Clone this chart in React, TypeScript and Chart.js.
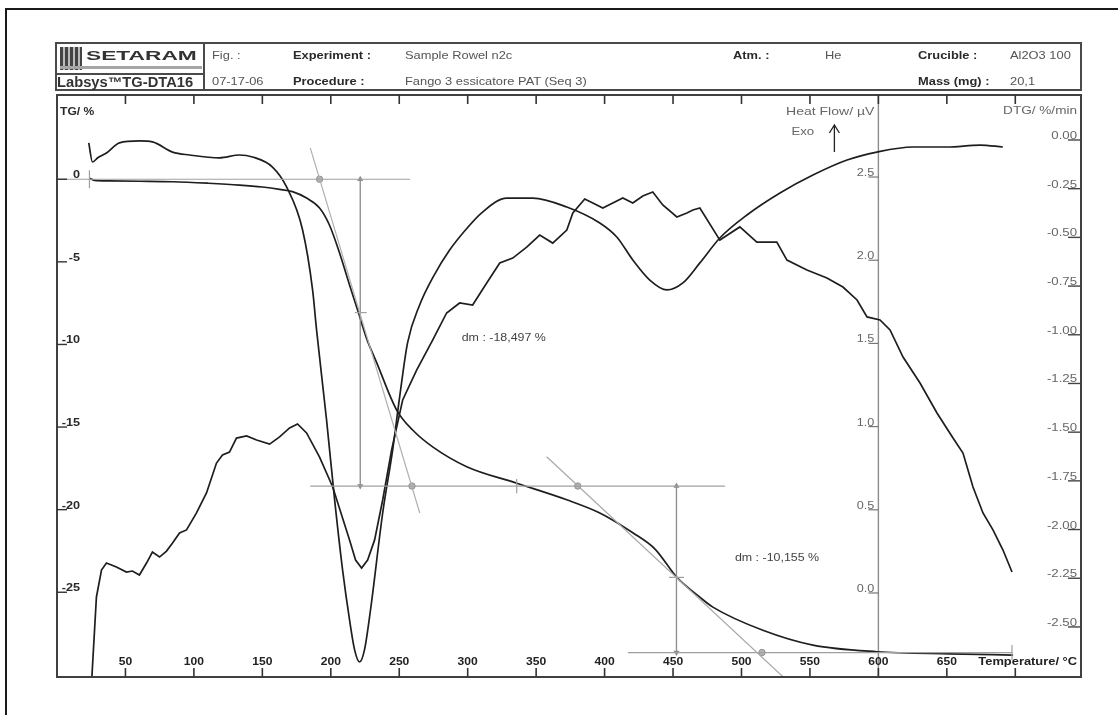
import React, { useEffect, useRef } from 'react';
import { Chart, registerables } from 'chart.js';

Chart.register(...registerables);

const FONT = '"Liberation Sans", Arial, Helvetica, sans-serif';

// ---------- axis ticks ----------
const tempTicks = [50, 100, 150, 200, 250, 300, 350, 400, 450, 500, 550, 600, 650, 700];
const tempTickLabels = ['50', '100', '150', '200', '250', '300', '350', '400', '450', '500', '550', '600', '650', ''];
const tgTicks = [0, -5, -10, -15, -20, -25];
const tgTickLabels = ['0', '-5', '-10', '-15', '-20', '-25'];
const hfTicks = [2.5, 2.0, 1.5, 1.0, 0.5, 0.0];
const hfTickLabels = ['2.5', '2.0', '1.5', '1.0', '0.5', '0.0'];
const dtgTicks = [0, -0.25, -0.5, -0.75, -1.0, -1.25, -1.5, -1.75, -2.0, -2.25, -2.5];
const dtgTickLabels = ['0.00', '-0.25', '-0.50', '-0.75', '-1.00', '-1.25', '-1.50', '-1.75', '-2.00', '-2.25', '-2.50'];
const hfAxisTemp = 600;

// ---------- axis ranges ----------
const tempRange = [0, 748];
const tgRange = [-30.13, 5.1];
const hfRange = [-0.505, 2.993];
const dtgRange = [-2.757, 0.231];

// ---------- TG curve (%) ----------
const tgTemps = [23.7, 27.3, 38.3, 60, 84.4, 110, 133.3, 150, 162.6, 172, 182.3, 191.8, 199, 206.4, 213.7, 220.3, 226, 233.5, 248.1, 259.8, 274.4, 299.3, 335.8, 372.3, 396.5, 420.6, 437, 452.8, 469.6, 479.1, 515.6, 552.2, 598.9, 652, 698.4];
const tgValues = [0.06, -0.07, -0.1, -0.12, -0.15, -0.24, -0.35, -0.47, -0.61, -0.75, -1.14, -1.74, -2.77, -4.46, -6.4, -8.1, -9.6, -11.1, -13.97, -15.18, -16.2, -17.4, -18.4, -19.4, -20.2, -21.4, -22.4, -24.1, -25.3, -25.9, -27.3, -28.2, -28.6, -28.73, -28.8];

// ---------- DTG curve (%/min) ----------
const dtgTemps = [23.2, 25.9, 30, 36.1, 45.6, 60.2, 69.7, 84.4, 96.8, 118.7, 133.3, 142.8, 157.4, 167.7, 179.4, 186.7, 189.6, 196.9, 202.8, 208.6, 213.7, 217.4, 221.0, 224.6, 229.0, 237.9, 245.2, 250.3, 256.1, 264.9, 275.0, 286.8, 299.0, 310.0, 328.5, 347.5, 372.4, 396.5, 408.9, 420.6, 433.0, 445.5, 457.2, 469.6, 484.2, 504.0, 528.1, 552.2, 577.1, 598.9, 625.2, 650.1, 674.2, 690.9];
const dtgValues = [-0.015, -0.113, -0.09, -0.067, -0.015, -0.005, -0.01, -0.062, -0.077, -0.092, -0.077, -0.087, -0.139, -0.241, -0.462, -0.77, -0.975, -1.437, -1.848, -2.207, -2.464, -2.618, -2.68, -2.618, -2.413, -1.915, -1.591, -1.319, -1.04, -0.847, -0.7, -0.565, -0.457, -0.375, -0.298, -0.298, -0.344, -0.426, -0.498, -0.616, -0.719, -0.77, -0.734, -0.631, -0.503, -0.385, -0.272, -0.18, -0.103, -0.062, -0.036, -0.036, -0.026, -0.036];

// ---------- Heat flow curve (µV) ----------
const hfTemps = [25.1, 28.8, 32.5, 36.1, 43.4, 50.7, 55.1, 60.2, 65.4, 69.7, 74.9, 80.0, 84.4, 89.5, 94.6, 101.9, 109.2, 116.5, 120.9, 126.0, 131.1, 138.5, 145.8, 155.3, 162.6, 169.9, 175.7, 182.3, 191.8, 201.4, 213.7, 218.1, 222.5, 226.9, 232.0, 237.9, 244.4, 252.5, 262.7, 274.4, 284.6, 294.1, 303.6, 313.9, 323.4, 332.9, 343.1, 352.6, 362.1, 372.4, 376.8, 385.5, 391.4, 398.7, 406.0, 413.3, 420.6, 427.9, 435.2, 442.5, 452.8, 460.1, 464.5, 469.6, 484.2, 498.8, 511.2, 525.8, 533.2, 547.8, 562.4, 574.1, 584.4, 591.7, 601.2, 608.5, 618.0, 630.4, 642.8, 654.5, 661.8, 669.1, 676.4, 683.7, 691.0, 697.6];
const hfValues = [-0.56, -0.024, 0.138, 0.18, 0.156, 0.126, 0.132, 0.108, 0.18, 0.246, 0.216, 0.252, 0.3, 0.361, 0.379, 0.481, 0.601, 0.781, 0.829, 0.847, 0.931, 0.944, 0.919, 0.895, 0.938, 0.992, 1.016, 0.962, 0.817, 0.637, 0.319, 0.198, 0.15, 0.198, 0.319, 0.559, 0.859, 1.16, 1.34, 1.52, 1.683, 1.743, 1.731, 1.863, 1.983, 2.013, 2.079, 2.151, 2.103, 2.181, 2.284, 2.368, 2.344, 2.314, 2.344, 2.374, 2.344, 2.386, 2.41, 2.332, 2.26, 2.284, 2.302, 2.314, 2.121, 2.2, 2.109, 2.109, 2.001, 1.941, 1.893, 1.839, 1.761, 1.659, 1.641, 1.581, 1.418, 1.262, 1.082, 0.931, 0.841, 0.637, 0.481, 0.379, 0.258, 0.126];

// ---------- mass-loss construction (TG scale) ----------
const baseline1Temps = [0, 258];
const baseline1Values = [0, 0];
const tangent1Temps = [185, 265];
const tangent1Values = [1.9, -20.2];
const baseline2Temps = [185, 488];
const baseline2Values = [-18.57, -18.57];
const tangent2Temps = [357.7, 534];
const tangent2Values = [-16.8, -30.4];
const baseline3Temps = [417, 698];
const baseline3Values = [-28.65, -28.65];
const arrow1Temps = [221.5, 221.5];
const arrow1Values = [0, -18.57];
const arrow2Temps = [452.5, 452.5];
const arrow2Values = [-18.57, -28.65];
const midTick1Temps = [217.5, 226.2];
const midTick1Values = [-8.07, -8.07];
const midTick2Temps = [447, 458];
const midTick2Values = [-24.1, -24.1];
const startTickTemps = [23.7, 23.7];
const startTickValues = [0.55, -0.55];
const plateauTickTemps = [335.8, 335.8];
const plateauTickValues = [-18.15, -19.0];
const endTickTemps = [697.6, 697.6];
const endTickValues = [-28.2, -29.1];
const markerTemps = [191.8, 259.3, 380.4, 515];
const markerValues = [0, -18.57, -18.57, -28.65];

// ---------- annotation texts ----------
const dmLabels = ['dm : -18,497 %', 'dm : -10,155 %'];
const dmTemps = [295.6, 495.2];
const dmValues = [-9.6, -22.9];

// ---------- header ----------
const headerRow1 = [
  { text: 'Fig. :', x: 212, bold: false },
  { text: 'Experiment :', x: 293, bold: true },
  { text: 'Sample Rowel n2c', x: 405, bold: false },
  { text: 'Atm. :', x: 733, bold: true },
  { text: 'He', x: 825, bold: false },
  { text: 'Crucible :', x: 918, bold: true },
  { text: 'Al2O3 100', x: 1010, bold: false },
];
const headerRow2 = [
  { text: '07-17-06', x: 212, bold: false },
  { text: 'Procedure :', x: 293, bold: true },
  { text: 'Fango 3 essicatore PAT (Seq  3)', x: 405, bold: false },
  { text: 'Mass (mg) :', x: 918, bold: true },
  { text: '20,1', x: 1010, bold: false },
];

const zip = (xs: number[], ys: number[]) => xs.map((x, i) => ({ x, y: ys[i] }));

function txt(ctx: CanvasRenderingContext2D, s: string, x: number, y: number, o: { align?: CanvasTextAlign; base?: CanvasTextBaseline; size?: number; bold?: boolean; color?: string; sx?: number }) {
  ctx.save();
  ctx.font = `${o.bold ? 'bold ' : ''}${o.size ?? 12}px ${FONT}`;
  ctx.fillStyle = o.color ?? '#333';
  ctx.textAlign = o.align ?? 'left';
  ctx.textBaseline = o.base ?? 'middle';
  ctx.translate(x, y);
  ctx.scale(o.sx ?? 1.12, 1);
  ctx.fillText(s, 0, 0);
  ctx.restore();
}

const decorPlugin = {
  id: 'decor',
  beforeDatasetsDraw(chart: any) {
    const { ctx, chartArea: a, scales } = chart;
    const hx = scales.x.getPixelForValue(hfAxisTemp);
    ctx.save();
    ctx.strokeStyle = '#8c8c8c';
    ctx.lineWidth = 1.4;
    ctx.beginPath();
    ctx.moveTo(hx, a.top);
    ctx.lineTo(hx, a.bottom);
    ctx.stroke();
    ctx.restore();
  },
  afterDatasetsDraw(chart: any) {
    const { ctx, chartArea: a, scales } = chart;
    const sx = scales.x, sTG = scales.yTG, sHF = scales.yHF, sDTG = scales.yDTG;
    const hx = sx.getPixelForValue(hfAxisTemp);
    ctx.save();
    // frame
    ctx.strokeStyle = '#404040';
    ctx.lineWidth = 2;
    ctx.strokeRect(a.left, a.top, a.right - a.left, a.bottom - a.top);
    // temperature ticks (top & bottom)
    ctx.lineWidth = 1.6;
    ctx.strokeStyle = '#333';
    tempTicks.forEach((t, i) => {
      const px = sx.getPixelForValue(t);
      ctx.beginPath();
      ctx.moveTo(px, a.top); ctx.lineTo(px, a.top + 9);
      ctx.moveTo(px, a.bottom); ctx.lineTo(px, a.bottom - 9);
      ctx.stroke();
      if (tempTickLabels[i]) txt(ctx, tempTickLabels[i], px, a.bottom - 15, { align: 'center', bold: true, size: 11, color: '#222', sx: 1.1 });
    });
    // TG ticks (left)
    tgTicks.forEach((v, i) => {
      const py = sTG.getPixelForValue(v);
      ctx.strokeStyle = '#333'; ctx.lineWidth = 1.4;
      ctx.beginPath(); ctx.moveTo(a.left, py); ctx.lineTo(a.left + 10, py); ctx.stroke();
      txt(ctx, tgTickLabels[i], a.left + 23, py - 1, { align: 'right', base: 'alphabetic', bold: true, size: 11, color: '#2a2a2a', sx: 1.15 });
    });
    // Heat flow ticks (middle axis)
    hfTicks.forEach((v, i) => {
      const py = sHF.getPixelForValue(v);
      ctx.strokeStyle = '#777'; ctx.lineWidth = 1.2;
      ctx.beginPath(); ctx.moveTo(hx - 10, py); ctx.lineTo(hx, py); ctx.stroke();
      txt(ctx, hfTickLabels[i], hx - 4, py - 1, { align: 'right', base: 'alphabetic', size: 11, color: '#666', sx: 1.15 });
    });
    // DTG ticks (right)
    dtgTicks.forEach((v, i) => {
      const py = sDTG.getPixelForValue(v);
      ctx.strokeStyle = '#444'; ctx.lineWidth = 1.4;
      ctx.beginPath(); ctx.moveTo(a.right - 13, py); ctx.lineTo(a.right, py); ctx.stroke();
      txt(ctx, dtgTickLabels[i], a.right - 4, py - 1, { align: 'right', base: 'alphabetic', size: 11, color: '#666', sx: 1.2 });
    });
    // axis titles
    txt(ctx, 'TG/ %', a.left + 3, a.top + 17, { bold: true, size: 11, color: '#2a2a2a', sx: 1.1 });
    txt(ctx, 'Heat Flow/ µV', hx - 4, a.top + 17, { align: 'right', size: 11.5, color: '#666', sx: 1.22 });
    txt(ctx, 'Exo', hx - 87, a.top + 37, { size: 11.5, color: '#666', sx: 1.15 });
    txt(ctx, 'DTG/ %/min', a.right - 4, a.top + 16, { align: 'right', size: 11.5, color: '#666', sx: 1.18 });
    txt(ctx, 'Temperature/ °C', a.right - 4, a.bottom - 15, { align: 'right', bold: true, size: 11.5, color: '#222', sx: 1.12 });
    // Exo arrow
    const ax = hx - 44;
    ctx.strokeStyle = '#222'; ctx.lineWidth = 1.3;
    ctx.beginPath();
    ctx.moveTo(ax, a.top + 57); ctx.lineTo(ax, a.top + 30);
    ctx.moveTo(ax - 5, a.top + 38); ctx.lineTo(ax, a.top + 30); ctx.lineTo(ax + 5, a.top + 38);
    ctx.stroke();
    // dm labels
    dmLabels.forEach((s, i) => {
      txt(ctx, s, sx.getPixelForValue(dmTemps[i]), sTG.getPixelForValue(dmValues[i]), { size: 11.5, color: '#444', sx: 1.08 });
    });
    ctx.restore();
  },
};

const grayLine = (data: { x: number; y: number }[], color = '#a0a0a0', width = 1.2) => ({
  data,
  yAxisID: 'yTG',
  borderColor: color,
  borderWidth: width,
  pointRadius: 0,
  tension: 0,
  fill: false,
});

export default function App() {
  const ref = useRef<HTMLCanvasElement>(null);
  useEffect(() => {
    const canvas = ref.current!;
    const curve = (data: any, axis: string, mono: boolean) => ({
      data,
      yAxisID: axis,
      borderColor: '#1e1e1e',
      borderWidth: 1.7,
      pointRadius: 0,
      fill: false,
      tension: mono ? 0.4 : 0,
      cubicInterpolationMode: mono ? 'monotone' : 'default',
    });
    const chart = new Chart(canvas, {
      type: 'line',
      data: {
        datasets: [
          grayLine(zip(baseline1Temps, baseline1Values)),
          grayLine(zip(tangent1Temps, tangent1Values), '#b0b0b0'),
          grayLine(zip(baseline2Temps, baseline2Values)),
          grayLine(zip(tangent2Temps, tangent2Values), '#a8a8a8'),
          grayLine(zip(baseline3Temps, baseline3Values)),
          grayLine(zip(midTick1Temps, midTick1Values)),
          grayLine(zip(midTick2Temps, midTick2Values)),
          grayLine(zip(startTickTemps, startTickValues)),
          grayLine(zip(plateauTickTemps, plateauTickValues)),
          grayLine(zip(endTickTemps, endTickValues)),
          {
            ...grayLine(zip(arrow1Temps, arrow1Values), '#8a8a8a', 1.3),
            pointRadius: 3.5, pointStyle: 'triangle', pointRotation: [0, 180],
            pointBackgroundColor: '#8a8a8a', pointBorderColor: '#8a8a8a', pointBorderWidth: 0,
          },
          {
            ...grayLine(zip(arrow2Temps, arrow2Values), '#8a8a8a', 1.3),
            pointRadius: 3.5, pointStyle: 'triangle', pointRotation: [0, 180],
            pointBackgroundColor: '#8a8a8a', pointBorderColor: '#8a8a8a', pointBorderWidth: 0,
          },
          {
            data: zip(markerTemps, markerValues),
            yAxisID: 'yTG',
            showLine: false,
            pointRadius: 3.2,
            pointStyle: 'circle',
            pointBackgroundColor: '#b5b5b5',
            pointBorderColor: '#909090',
            pointBorderWidth: 1,
          },
          curve(zip(tgTemps, tgValues), 'yTG', true),
          curve(zip(dtgTemps, dtgValues), 'yDTG', true),
          curve(zip(hfTemps, hfValues), 'yHF', false),
        ] as any,
      },
      options: {
        animation: false,
        responsive: false,
        maintainAspectRatio: false,
        devicePixelRatio: 1,
        events: [],
        layout: { padding: { left: 57, right: 37, top: 95, bottom: 38 } },
        plugins: { legend: { display: false }, tooltip: { enabled: false }, title: { display: false } },
        scales: {
          x: { type: 'linear', min: tempRange[0], max: tempRange[1], display: false },
          yTG: { type: 'linear', min: tgRange[0], max: tgRange[1], display: false },
          yHF: { type: 'linear', min: hfRange[0], max: hfRange[1], display: false },
          yDTG: { type: 'linear', min: dtgRange[0], max: dtgRange[1], display: false },
        },
      } as any,
      plugins: [decorPlugin],
    });
    return () => chart.destroy();
  }, []);

  const base: React.CSSProperties = {
    position: 'absolute',
    fontFamily: FONT,
    fontSize: 11,
    lineHeight: '11px',
    whiteSpace: 'nowrap',
    transform: 'scaleX(1.17)',
    transformOrigin: 'left center',
  };

  return (
    <div style={{ position: 'fixed', left: 0, top: 0, width: 1118, height: 715, background: '#fff', overflow: 'hidden' }}>
      <canvas ref={ref} width={1118} height={715} style={{ position: 'absolute', left: 0, top: 0, width: 1118, height: 715 }} />
      {/* outer frame */}
      <div style={{ position: 'absolute', left: 5, top: 8, width: 1113, height: 2, background: '#1a1a1a' }} />
      <div style={{ position: 'absolute', left: 5, top: 8, width: 2, height: 707, background: '#1a1a1a' }} />
      {/* header box */}
      <div style={{ position: 'absolute', left: 55, top: 42, width: 1027, height: 49, border: '2px solid #4a4a4a', boxSizing: 'border-box' }} />
      <div style={{ position: 'absolute', left: 203, top: 42, width: 2, height: 49, background: '#4a4a4a' }} />
      <div style={{ position: 'absolute', left: 55, top: 73, width: 150, height: 2, background: '#4a4a4a' }} />
      {/* logo */}
      <div style={{ position: 'absolute', left: 60, top: 47, width: 22, height: 23, background: 'repeating-linear-gradient(90deg, #444 0px, #444 3px, #bbb 3px, #bbb 5px)' }} />
      <span style={{ ...base, left: 86, top: 49, fontSize: 13, lineHeight: '13px', fontWeight: 900, color: '#333', transform: 'scaleX(1.75)' }}>SETARAM</span>
      <div style={{ position: 'absolute', left: 60, top: 66, width: 142, height: 3, background: '#a5a5a5' }} />
      <span style={{ ...base, left: 57, top: 75, fontSize: 14, lineHeight: '14px', fontWeight: 600, color: '#333', transform: 'scaleX(1.05)' }}>Labsys™TG-DTA16</span>
      {headerRow1.map((h, i) => (
        <span key={'r1' + i} style={{ ...base, left: h.x, top: 50, fontWeight: h.bold ? 700 : 400, color: h.bold ? '#2a2a2a' : '#555' }}>{h.text}</span>
      ))}
      {headerRow2.map((h, i) => (
        <span key={'r2' + i} style={{ ...base, left: h.x, top: 76, fontWeight: h.bold ? 700 : 400, color: h.bold ? '#2a2a2a' : '#555' }}>{h.text}</span>
      ))}
    </div>
  );
}
